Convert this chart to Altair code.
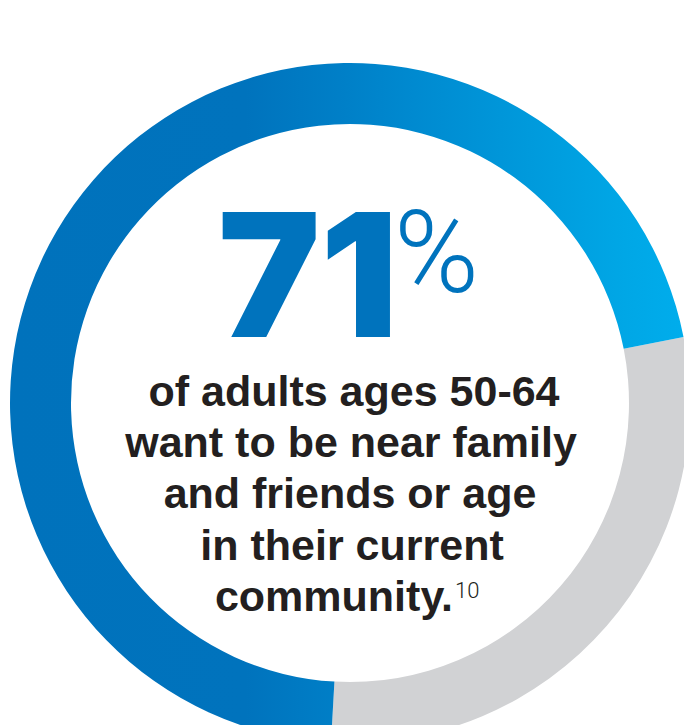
import math
import altair as alt
import pandas as pd

# ---- data ----
segments = ["Near family/friends or age in place", "Other"]
shares = [71, 29]
order_idx = [0, 1]

headline_number = "71"
headline_symbol = "%"
body_lines = [
    "of adults ages 50-64",
    "want to be near family",
    "and friends or age",
    "in their current",
    "community.",
]
footnote = "10"

df = pd.DataFrame({"segment": segments, "value": shares, "idx": order_idx})

# ---- styling ----
W, H = 684, 725
CX, CY = 350, 403
R_OUT, R_IN = 340, 279
start = math.radians(183.2)
theta_scale = alt.Scale(domain=[0, 100], range=[start, start + 2 * math.pi])

blue_grad = alt.LinearGradient(
    gradient="linear",
    x1=0, x2=1, y1=0, y2=0,
    stops=[
        alt.GradientStop(offset=0.0, color="#0072bc"),
        alt.GradientStop(offset=0.35, color="#0073bd"),
        alt.GradientStop(offset=0.5, color="#0080c8"),
        alt.GradientStop(offset=0.6, color="#008ad0"),
        alt.GradientStop(offset=0.9, color="#00a6e5"),
        alt.GradientStop(offset=1.0, color="#00adec"),
    ],
)

base = alt.Chart(df).transform_stack(
    stack="value", as_=["v0", "v1"], groupby=[], sort=[alt.SortField("idx")]
)

def ring(filter_expr, fill):
    return base.transform_filter(filter_expr).mark_arc(
        radius=R_OUT, radius2=R_IN, fill=fill, strokeWidth=0
    ).encode(
        theta=alt.Theta("v0:Q", scale=theta_scale),
        theta2="v1:Q",
        x=alt.value(CX),
        y=alt.value(CY),
    )

blue = ring("datum.idx == 0", blue_grad)
gray = ring("datum.idx == 1", "#d1d2d4")

def text_layer(s, x, y, size, weight, color, align="center", font="Liberation Sans"):
    return alt.Chart(pd.DataFrame({"t": [s]})).mark_text(
        align=align, baseline="alphabetic", fontSize=size, fontWeight=weight,
        font=font, color=color,
    ).encode(text="t:N", x=alt.value(x), y=alt.value(y))

layers = [gray, blue]
layers.append(text_layer(headline_number, 308, 337, 172, 900, "#0073bd", font="Inter"))
layers.append(text_layer(headline_symbol, 394, 292, 115, 300, "#0073bd", align="left", font="Roboto"))

line_x = [354, 351, 350, 352, 334]
line_y = [406, 457, 508, 560, 611]
for i, s in enumerate(body_lines):
    layers.append(text_layer(s, line_x[i], line_y[i], 43, "bold", "#231f20"))
layers.append(text_layer(footnote, 455, 598, 22, 300, "#231f20", align="left", font="Roboto"))

chart = alt.layer(*layers).properties(
    width=W, height=H, padding=0, autosize=alt.AutoSizeParams(type="none"),
    background="white",
).configure_view(stroke=None)

chart.save("out.html", embed_options={"renderer": "svg", "actions": False})
